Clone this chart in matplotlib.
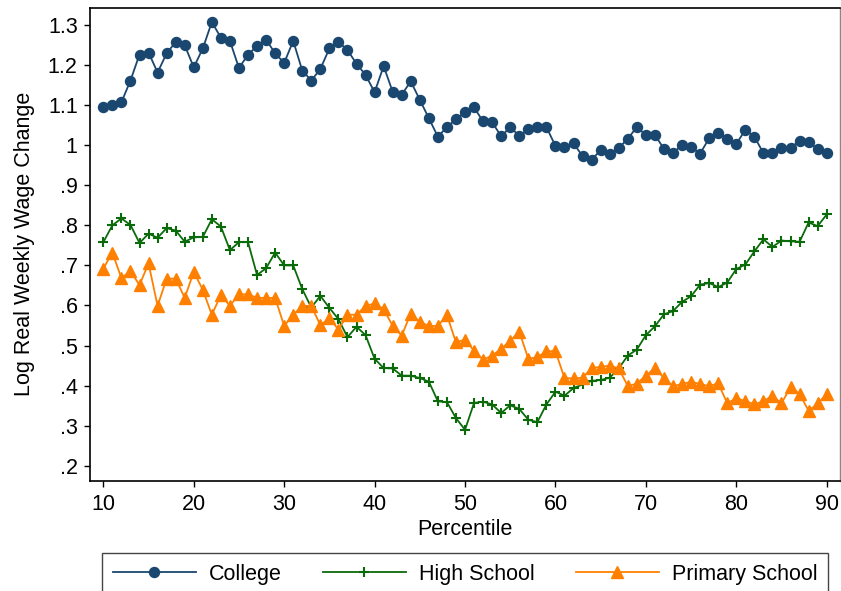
import numpy as np
import matplotlib
matplotlib.use('Agg')
from matplotlib import pyplot as plt
from matplotlib.ticker import FixedLocator, FuncFormatter

# percentiles 10..90
percentile = list(range(10, 91))

college = [1.096, 1.101, 1.107, 1.161, 1.226, 1.231, 1.181, 1.229, 1.257, 1.249,
           1.194, 1.241, 1.307, 1.268, 1.260, 1.192, 1.226, 1.247, 1.263, 1.229,
           1.205, 1.260, 1.186, 1.161, 1.190, 1.241, 1.258, 1.237, 1.203, 1.175,
           1.132, 1.197, 1.133, 1.126, 1.159, 1.113, 1.067, 1.021, 1.045, 1.065,
           1.082, 1.094, 1.059, 1.057, 1.022, 1.045, 1.023, 1.039, 1.045, 1.045,
           0.998, 0.995, 1.005, 0.972, 0.964, 0.987, 0.978, 0.993, 1.016, 1.045,
           1.025, 1.025, 0.991, 0.980, 1.001, 0.995, 0.979, 1.017, 1.031, 1.016,
           1.003, 1.038, 1.021, 0.980, 0.980, 0.993, 0.993, 1.011, 1.007, 0.991,
           0.981]

high_school = [0.758, 0.800, 0.817, 0.801, 0.756, 0.779, 0.769, 0.793, 0.787, 0.759,
               0.770, 0.771, 0.815, 0.797, 0.738, 0.758, 0.758, 0.676, 0.693, 0.732,
               0.700, 0.700, 0.641, 0.595, 0.624, 0.594, 0.566, 0.521, 0.547, 0.526,
               0.467, 0.444, 0.443, 0.425, 0.425, 0.419, 0.410, 0.361, 0.359, 0.319,
               0.290, 0.357, 0.360, 0.353, 0.332, 0.351, 0.342, 0.315, 0.309, 0.353,
               0.385, 0.375, 0.394, 0.403, 0.412, 0.414, 0.420, 0.443, 0.475, 0.490,
               0.526, 0.548, 0.578, 0.586, 0.609, 0.623, 0.652, 0.656, 0.646, 0.657,
               0.691, 0.702, 0.735, 0.765, 0.746, 0.762, 0.760, 0.759, 0.807, 0.798,
               0.827]

primary_school = [0.692, 0.732, 0.668, 0.686, 0.651, 0.705, 0.599, 0.667, 0.667, 0.619,
                  0.684, 0.639, 0.577, 0.626, 0.599, 0.628, 0.628, 0.619, 0.619, 0.619,
                  0.549, 0.577, 0.599, 0.599, 0.551, 0.568, 0.540, 0.577, 0.577, 0.599,
                  0.605, 0.591, 0.549, 0.525, 0.580, 0.559, 0.549, 0.549, 0.576, 0.508,
                  0.515, 0.487, 0.465, 0.475, 0.492, 0.512, 0.535, 0.467, 0.471, 0.486,
                  0.486, 0.419, 0.418, 0.420, 0.444, 0.447, 0.450, 0.443, 0.399, 0.405,
                  0.425, 0.444, 0.419, 0.399, 0.404, 0.410, 0.404, 0.399, 0.406, 0.356,
                  0.369, 0.361, 0.354, 0.361, 0.375, 0.356, 0.396, 0.380, 0.337, 0.356,
                  0.378]

x_ticks = [10, 20, 30, 40, 50, 60, 70, 80, 90]
y_ticks = [0.2, 0.3, 0.4, 0.5, 0.6, 0.7, 0.8, 0.9, 1.0, 1.1, 1.2, 1.3]

plt.rcParams['font.family'] = ['Liberation Sans', 'DejaVu Sans']
fs = 15.5

fig = plt.figure(figsize=(8.41, 5.91), dpi=100)
ax = fig.add_axes([89.5 / 841, 1 - 480.7 / 591, (840 - 89.5) / 841, (480.7 - 8) / 591])

ax.plot(percentile, college, color='#1a476f', lw=1.3, marker='o', ms=7.2,
        label='College')
ax.plot(percentile, high_school, color='#0b6b0b', lw=1.3, marker='+', ms=7,
        mew=1.5, label='High School')
ax.plot(percentile, primary_school, color='#ff8000', lw=1.3, marker='^', ms=8,
        label='Primary School')

ax.set_xlim(8.47, 91.47)
ax.set_ylim(0.163, 1.342)
ax.xaxis.set_major_locator(FixedLocator(x_ticks))
ax.yaxis.set_major_locator(FixedLocator(y_ticks))


def stata_fmt(v, pos):
    s = ('%.1f' % v)
    if s.endswith('.0'):
        s = s[:-2]
    if s.startswith('0.'):
        s = s[1:]
    return s


ax.yaxis.set_major_formatter(FuncFormatter(stata_fmt))
ax.tick_params(direction='out', length=4.5, width=1, labelsize=fs, colors='black')
ax.tick_params(axis='x', pad=5)
ax.tick_params(axis='y', pad=4)

for side in ['left', 'bottom', 'top']:
    ax.spines[side].set_linewidth(1.2)
    ax.spines[side].set_color('black')
ax.spines['right'].set_color('#888888')
ax.spines['right'].set_linewidth(1)

ax.set_xlabel('Percentile', fontsize=fs, labelpad=3)
ax.set_ylabel('Log Real Weekly Wage Change', fontsize=fs, labelpad=9)

leg = fig.legend(loc='upper left', ncol=3, mode='expand', fontsize=fs,
                 bbox_to_anchor=(102 / 841, 0, 726 / 841, 1 - 553 / 591),
                 bbox_transform=fig.transFigure, borderaxespad=0,
                 borderpad=0.5, handlelength=3.85, handletextpad=0.6,
                 fancybox=False, framealpha=1)
leg.get_frame().set_edgecolor('#444444')
leg.get_frame().set_linewidth(1)

plt.savefig('out.png', dpi=100)
